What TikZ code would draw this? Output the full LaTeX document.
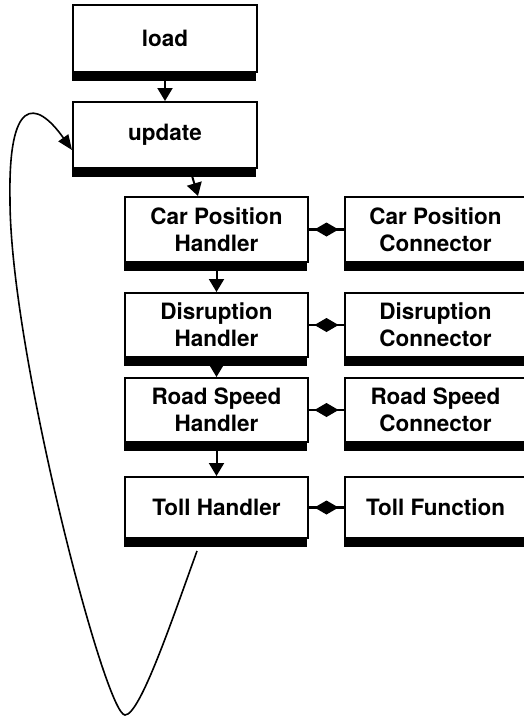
\documentclass[tikz,border=0pt]{standalone}
\usepackage{fontspec}
\setmainfont{TeX Gyre Heros}
\usetikzlibrary{arrows.meta,shadows,calc}

\tikzset{
  stagebox/.style={draw=black, line width=2pt, fill=white, align=center,
    font=\bfseries\fontsize{22.5pt}{27pt}\selectfont,
    inner sep=0pt,
    drop shadow={shadow xshift=-1pt, shadow yshift=-9pt, fill=black, opacity=1}},
  flow/.style={line width=2pt, -{Triangle[length=13pt,width=15pt]}},
  loopback/.style={line width=1.6pt, -{Triangle[length=15pt,width=12pt]}},
  pairlink/.style={line width=2.5pt},
  joint/.style={fill=black}
}

\begin{document}
\begin{tikzpicture}[x=1pt, y=-1pt]
  \useasboundingbox (0,0) rectangle (523,721);

  % main pipeline
  \node[stagebox, minimum width=184pt, minimum height=67pt] (load)   at (165,38.5) {load};
  \node[stagebox, minimum width=184pt, minimum height=66pt] (update) at (165,135)  {update};
  \node[stagebox, minimum width=183pt, minimum height=65pt] (cph) at (216.5,229.5) {Car Position\\Handler};
  \node[stagebox, minimum width=183pt, minimum height=64pt] (dh)  at (216.5,325)   {Disruption\\Handler};
  \node[stagebox, minimum width=183pt, minimum height=64pt] (rsh) at (216.5,410)   {Road Speed\\Handler};
  \node[stagebox, minimum width=183pt, minimum height=61pt] (th)  at (216.5,507.5) {Toll Handler};

  % companion components
  \node[stagebox, minimum width=181pt, minimum height=65pt] (cpc) at (435.5,229.5) {Car Position\\Connector};
  \node[stagebox, minimum width=181pt, minimum height=64pt] (dc)  at (435.5,325)   {Disruption\\Connector};
  \node[stagebox, minimum width=181pt, minimum height=64pt] (rsc) at (435.5,410)   {Road Speed\\Connector};
  \node[stagebox, minimum width=181pt, minimum height=61pt] (tf)  at (435.5,507.5) {Toll Function};

  % sequence arrows
  \draw[flow] (load.south) -- (update.north);
  \draw[flow] ([xshift=25pt]update.south) -- ([xshift=-18.5pt]cph.north);
  \draw[flow] (cph.south) -- (dh.north);
  \draw[flow] (dh.south) -- (rsh.north);
  \draw[flow] (rsh.south) -- (th.north);

  % handler / component links, each with a diamond in the middle
  \foreach \a/\b in {cph/cpc, dh/dc, rsh/rsc, th/tf} {
    \draw[pairlink] (\a.east) -- (\b.west);
    \coordinate (mid-\a) at ($(\a.east)!0.5!(\b.west)$);
    \fill[joint] (mid-\a) +(-12,0) -- +(0,-7) -- +(12,0) -- +(0,7) -- cycle;
  }

  % loop back from the toll handler to update
  \coordinate (loopstart) at ([xshift=-19.5pt, yshift=-12pt]th.south);
  \coordinate (loopbottom) at (125,715);
  \coordinate (loopleft) at (10,200);
  \draw[loopback] (loopstart)
      .. controls (172,620) and (140,715) .. (loopbottom)
      .. controls (105,715) and (10,350) .. (loopleft)
      .. controls (8,98) and (35,98) .. ([yshift=-15pt]update.west);
\end{tikzpicture}
\end{document}
